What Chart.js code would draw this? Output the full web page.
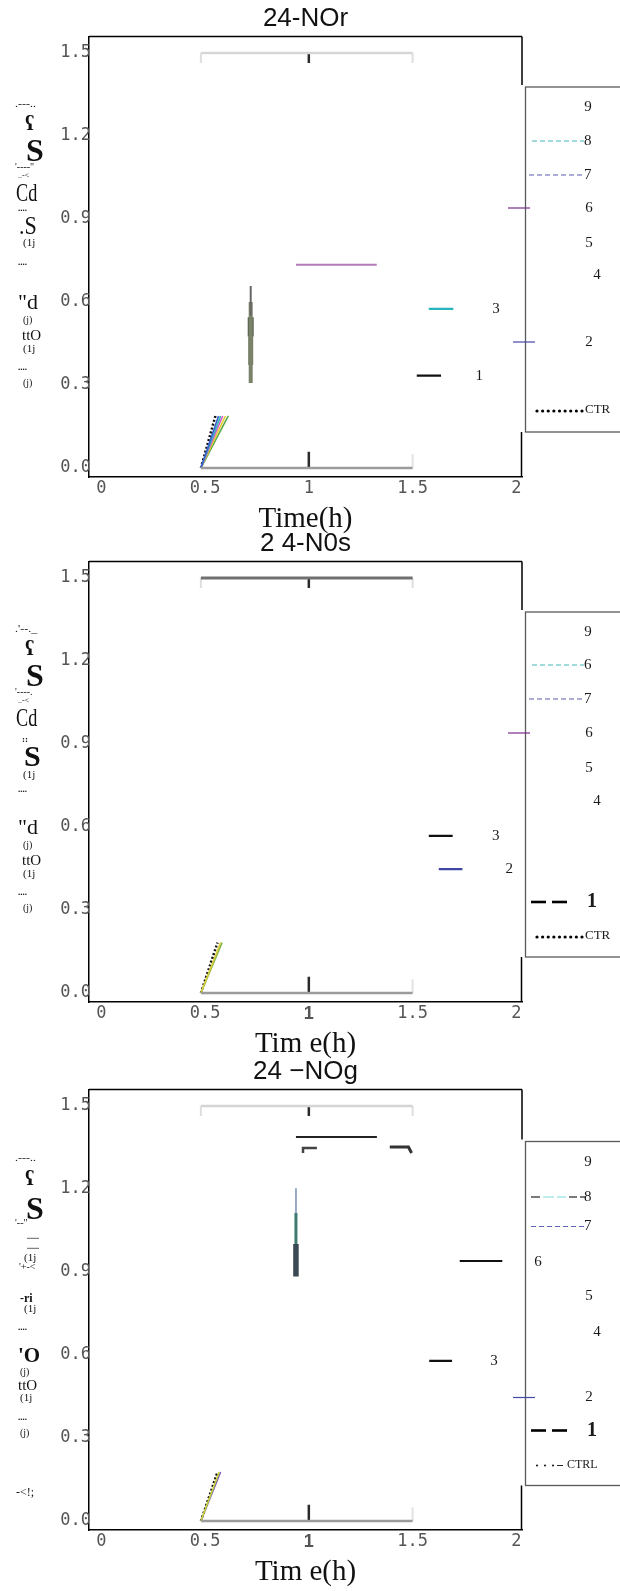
<!DOCTYPE html>
<html>
<head>
<meta charset="utf-8">
<script src="https://cdn.jsdelivr.net/npm/chart.js@4.4.1/dist/chart.umd.min.js"></script>
<style>
html,body{margin:0;padding:0;background:#fff;}
body{width:620px;height:1591px;position:relative;overflow:hidden;}
.panel{position:absolute;left:0;width:620px;height:538px;}
.panel canvas{position:absolute;left:0;top:0;}
.g{position:absolute;font-family:"Liberation Serif","DejaVu Serif",serif;color:#111;white-space:nowrap;line-height:1;transform-origin:left center;}
</style>
</head>
<body>
<div class="panel" id="p0" style="top:0px"><canvas id="c0" width="620" height="538"></canvas></div>
<div class="panel" id="p1" style="top:525px"><canvas id="c1" width="620" height="538"></canvas></div>
<div class="panel" id="p2" style="top:1053px"><canvas id="c2" width="620" height="538"></canvas></div>
<script>
// ---------------- data ----------------
const panelTitles = ["24-NOr", "2 4-N0s", "24 \u2212NOg"];
const axisTitles = ["Time(h)", "Tim e(h)", "Tim e(h)"];
const xTicks = [0, 0.5, 1, 1.5, 2];
const yTicks = [0, 0.3, 0.6, 0.9, 1.2, 1.5];

// bracket lines drawn in every panel
const bracketX = [0.48, 1.5];
const bracketMid = 1;
const upperLevel = [1.5, 1.464];
const lowerLevel = [0, 0.059];
const lowerCap = 0.05;

// rising ramp lines from (0.48, 0)
const rampBase = [0.48, 0];
const rRampTopX = [0.565, 0.575, 0.585, 0.598, 0.612, 0.55];
const rRampTopY = 0.188;
const sRampTopX = [0.575, 0.582, 0.56];
const sRampTopY = 0.182;
const gRampTopX = [0.568, 0.575, 0.56];
const gRampTopY = 0.177;

// NOr panel
const rBarX = 0.72;
const rBarSegments = [[0.658, 0.55], [0.6, 0.307], [0.545, 0.475], [0.475, 0.372]];
const rPurpleX = [0.938, 1.327];
const rPurpleY = 0.735;
const rCyanX = [1.578, 1.696];
const rCyanY = 0.575;
const rBlackX = [1.52, 1.637];
const rBlackY = 0.334;
const rTags = ["3", "1"];
const rTagX = [1.902, 1.821];
const rTagY = [0.575, 0.334];
const rLegendLabels = ["9", "8", "7", "6", "5", "4", "2", "CTR"];

// NOs panel
const sBlackX = [1.578, 1.693];
const sBlackY = 0.568;
const sBlueX = [1.626, 1.74];
const sBlueY = 0.448;
const sTags = ["3", "2"];
const sTagX = [1.90, 1.966];
const sTagY = [0.568, 0.448];
const sLegendLabels = ["9", "6", "7", "6", "5", "4", "1", "CTR"];

// NOg panel
const gLineX = [0.938, 1.328];
const gLineY = 1.388;
const gLeftBracket = [[0.972, 1.33], [0.972, 1.348], [1.039, 1.348]];
const gRightBracket = [[1.39, 1.352], [1.48, 1.352], [1.495, 1.33]];
const gBarX = 0.938;
const gBarLevels = [1.203, 1.113, 1.001, 0.884];
const gSixX = [1.727, 1.932];
const gSixY = 0.94;
const gBlackX = [1.58, 1.69];
const gBlackY = 0.579;
const gTags = ["3"];
const gTagX = [1.892];
const gTagY = [0.579];
const gLegendLabels = ["9", "8", "7", "6", "5", "4", "2", "1", "CTRL"];

// garbled axis-title fragments
const rGarble = [".---..", "\u0295", "S", "'----\"", "..-<", "Cd", "....", ".S", "(1j", "....", "\"d", "(j)", "ttO", "(1j", "....", "(j)"];
const sGarble = [".'--._", "\u0295", "S", "'----.", "..-<", "Cd", "::", "S", "(1j", "....", "\"d", "(j)", "ttO", "(1j", "....", "(j)"];
const gGarble = [".---..", "\u0295", "S", "'--\"", "......", "......", "(1j", "'+-<", "-ri", "(1j", "....", "'O", "(j)", "ttO", "(1j", "....", "(j)", "-<!;"];

// ---------------- helpers ----------------
function pts(arr) { return arr.map(p => ({x: p[0], y: p[1]})); }
function seg(points, color, width, dash) {
  return {data: pts(points), borderColor: color, backgroundColor: color, borderWidth: width,
    borderDash: dash || [], pointRadius: 0, pointHoverRadius: 0, showLine: true, fill: false,
    tension: 0, borderCapStyle: 'butt'};
}
function bracketSets(topColor, topWidth) {
  const x0 = bracketX[0], x1 = bracketX[1];
  return [
    seg([[x0, upperLevel[0]], [x1, upperLevel[0]]], topColor, topWidth),
    seg([[x0, upperLevel[0]], [x0, upperLevel[1]]], '#dedede', 2),
    seg([[x1, upperLevel[0]], [x1, upperLevel[1]]], '#dedede', 2),
    seg([[bracketMid, upperLevel[0]], [bracketMid, upperLevel[1]]], '#2a2a2a', 2.5),
    seg([[x0, lowerLevel[0]], [x1, lowerLevel[0]]], '#9c9c9c', 2.5),
    seg([[x1, lowerLevel[0]], [x1, lowerCap]], '#e2e2e2', 2),
    seg([[bracketMid, lowerLevel[0]], [bracketMid, lowerLevel[1]]], '#2a2a2a', 2.5)
  ];
}
function rampSets(topXs, topY, colors) {
  return topXs.map((tx, i) => {
    const dotted = colors[i] === '#111';
    return seg([rampBase, [tx, topY]], colors[i], dotted ? 2.5 : 1.6, dotted ? [2, 2] : []);
  });
}

function datasets0() {
  const d = bracketSets('#d6d6d6', 2.5);
  d.push(...rampSets(rRampTopX, rRampTopY, ['#3a5fcd', '#2fb7b7', '#d957c8', '#e3cf2f', '#5aa84a', '#111']));
  const barStyles = [['#666', 2], ['#7b826a', 4], ['#535d4c', 6], ['#737b62', 5]];
  rBarSegments.forEach((s, i) => d.push(seg([[rBarX, s[0]], [rBarX, s[1]]], barStyles[i][0], barStyles[i][1])));
  d.push(seg([[rPurpleX[0], rPurpleY], [rPurpleX[1], rPurpleY]], '#b27ab9', 2));
  d.push(seg([[rCyanX[0], rCyanY], [rCyanX[1], rCyanY]], '#27b5bd', 2.2));
  d.push(seg([[rBlackX[0], rBlackY], [rBlackX[1], rBlackY]], '#111', 2.2));
  return d;
}
function datasets1() {
  const d = bracketSets('#707070', 3);
  d.push(...rampSets(sRampTopX, sRampTopY, ['#d9cf3a', '#7ab34a', '#111']));
  d.push(seg([[sBlackX[0], sBlackY], [sBlackX[1], sBlackY]], '#111', 2.2));
  d.push(seg([[sBlueX[0], sBlueY], [sBlueX[1], sBlueY]], '#4046a6', 2.2));
  return d;
}
function datasets2() {
  const d = bracketSets('#d4d4d4', 2.5);
  d.push(...rampSets(gRampTopX, gRampTopY, ['#c9d43a', '#7b5fb0', '#111']));
  d.push(seg([[gLineX[0], gLineY], [gLineX[1], gLineY]], '#222', 1.8));
  d.push(seg(gLeftBracket, '#444', 2.5));
  d.push(seg(gRightBracket, '#333', 3));
  const barStyles = [['#9aa8c8', 2], ['#3d7a72', 3], ['#3a4954', 5.5]];
  for (let i = 0; i < 3; i++) d.push(seg([[gBarX, gBarLevels[i]], [gBarX, gBarLevels[i + 1]]], barStyles[i][0], barStyles[i][1]));
  d.push(seg([[gSixX[0], gSixY], [gSixX[1], gSixY]], '#111', 2));
  d.push(seg([[gBlackX[0], gBlackY], [gBlackX[1], gBlackY]], '#111', 2.2));
  return d;
}

// ---------------- layout of legends ----------------
const SERIF = '"Liberation Serif", "DejaVu Serif", serif';
const legendLayouts = [
  {top: 87, h: 345, items: [
    {dy: 20, tx: 588},
    {dy: 54, tx: 584, align: 'left', line: {x1: 532, x2: 584, color: '#45b5b5', dash: [5, 3]}},
    {dy: 88, tx: 584, align: 'left', line: {x1: 529, x2: 584, color: '#5a5fb0', dash: [5, 3]}},
    {dy: 121, tx: 589, line: {x1: 508, x2: 530, color: '#7a2a8a'}},
    {dy: 156, tx: 589},
    {dy: 188, tx: 597},
    {dy: 255, tx: 589, line: {x1: 513, x2: 535, color: '#4349a8'}},
    {dy: 323, tx: 585, align: 'left', size: 13, dots: {x1: 537, x2: 582, n: 9}}
  ]},
  {top: 87, h: 345, items: [
    {dy: 20, tx: 588},
    {dy: 53, tx: 584, align: 'left', line: {x1: 532, x2: 584, color: '#45b5b5', dash: [5, 3]}},
    {dy: 87, tx: 584, align: 'left', line: {x1: 529, x2: 584, color: '#5a5fb0', dash: [5, 3]}},
    {dy: 121, tx: 589, line: {x1: 508, x2: 530, color: '#7a2a8a'}},
    {dy: 156, tx: 589},
    {dy: 189, tx: 597},
    {dy: 290, tx: 592, size: 20, bold: true, dashes: [[531, 546], [552, 567]]},
    {dy: 324, tx: 585, align: 'left', size: 13, dots: {x1: 537, x2: 582, n: 9}}
  ]},
  {top: 88.5, h: 344, items: [
    {dy: 20.5, tx: 588},
    {dy: 55.5, tx: 584, align: 'left', multi: [[531, 540, '#222'], [543, 554, '#8fe0e0'], [557, 566, '#8fe0e0'], [569, 577, '#222'], [580, 586, '#222']]},
    {dy: 85, tx: 584, align: 'left', line: {x1: 531, x2: 584, color: '#5a5fb0', dash: [5, 3]}},
    {dy: 121, tx: 538},
    {dy: 155, tx: 589},
    {dy: 191, tx: 597},
    {dy: 256, tx: 589, line: {x1: 513, x2: 535, color: '#4349a8'}},
    {dy: 289, tx: 592, size: 20, bold: true, dashes: [[531, 546], [552, 567]]},
    {dy: 323, tx: 567, align: 'left', size: 12, sparse: [537, 545, 553], dash: [557, 563]}
  ]}
];
const legendLabelSets = [rLegendLabels, sLegendLabels, gLegendLabels];
const tagSets = [[rTags, rTagX, rTagY], [sTags, sTagX, sTagY], [gTags, gTagX, gTagY]];

function decorPlugin(idx) {
  return {
    id: 'decor' + idx,
    afterDraw(chart) {
      const ctx = chart.ctx, a = chart.chartArea;
      const L = legendLayouts[idx];
      ctx.save();
      // frame: top and right borders
      ctx.strokeStyle = '#000'; ctx.lineWidth = 1.5;
      ctx.beginPath();
      ctx.moveTo(a.left, a.top); ctx.lineTo(a.right, a.top);
      ctx.moveTo(a.right, a.top); ctx.lineTo(a.right, L.top - 2);
      ctx.moveTo(a.right - 0.5, L.top + L.h); ctx.lineTo(a.right - 0.5, a.bottom);
      ctx.stroke();
      // legend box
      ctx.strokeStyle = '#5a5a5a'; ctx.lineWidth = 1.3;
      ctx.strokeRect(525.5, L.top, 150, L.h);
      const labels = legendLabelSets[idx];
      L.items.forEach((it, i) => {
        const y = L.top + it.dy;
        if (it.line) {
          ctx.strokeStyle = it.line.color; ctx.lineWidth = 1.2;
          ctx.setLineDash(it.line.dash || []);
          ctx.beginPath(); ctx.moveTo(it.line.x1, y); ctx.lineTo(it.line.x2, y); ctx.stroke();
          ctx.setLineDash([]);
        }
        if (it.multi) {
          ctx.lineWidth = 1.2;
          it.multi.forEach(m => { ctx.strokeStyle = m[2]; ctx.beginPath(); ctx.moveTo(m[0], y); ctx.lineTo(m[1], y); ctx.stroke(); });
        }
        if (it.dashes) {
          ctx.strokeStyle = '#000'; ctx.lineWidth = 2.6;
          it.dashes.forEach(m => { ctx.beginPath(); ctx.moveTo(m[0], y); ctx.lineTo(m[1], y); ctx.stroke(); });
        }
        if (it.dots) {
          ctx.fillStyle = '#000';
          const step = (it.dots.x2 - it.dots.x1) / (it.dots.n - 1);
          for (let k = 0; k < it.dots.n; k++) { ctx.beginPath(); ctx.arc(it.dots.x1 + k * step, y + 1, 1.6, 0, Math.PI * 2); ctx.fill(); }
        }
        if (it.sparse) {
          ctx.fillStyle = '#222';
          it.sparse.forEach(sx => { ctx.beginPath(); ctx.arc(sx, y + 1, 1.1, 0, Math.PI * 2); ctx.fill(); });
          ctx.strokeStyle = '#222'; ctx.lineWidth = 1;
          ctx.beginPath(); ctx.moveTo(it.dash[0], y + 1); ctx.lineTo(it.dash[1], y + 1); ctx.stroke();
        }
        ctx.fillStyle = '#1a1a1a';
        ctx.font = (it.bold ? 'bold ' : '') + (it.size || 15) + 'px ' + SERIF;
        ctx.textAlign = it.align || 'center';
        ctx.textBaseline = 'middle';
        ctx.fillText(labels[i], it.tx, y);
      });
      // in-plot tags placed by the scales
      const T = tagSets[idx];
      ctx.font = '15px ' + SERIF; ctx.textAlign = 'center'; ctx.textBaseline = 'middle'; ctx.fillStyle = '#1a1a1a';
      T[0].forEach((t, i) => {
        ctx.fillText(t, chart.scales.x.getPixelForValue(T[1][i]), chart.scales.y.getPixelForValue(T[2][i]));
      });
      ctx.restore();
    }
  };
}

function makeOptions(idx, boldOne) {
  const mono = {family: '"DejaVu Sans Mono", monospace', size: 17, weight: 'normal'};
  return {
    responsive: false, animation: false, devicePixelRatio: 1,
    layout: {padding: {left: 0, right: 98, top: 0, bottom: 0}},
    plugins: {
      legend: {display: false}, tooltip: {enabled: false},
      title: {display: true, fullSize: false, text: panelTitles[idx], color: '#111',
        font: {family: '"Liberation Sans", Arial, sans-serif', size: 26, weight: 'normal', lineHeight: 1.2},
        padding: {top: 3, bottom: 2.2}}
    },
    scales: {
      x: {
        type: 'linear', min: -0.059, max: 2.027,
        afterBuildTicks: s => { s.ticks = xTicks.map(v => ({value: v})); },
        afterFit: s => { s.height = 61; },
        grid: {display: false, drawTicks: false},
        border: {display: true, color: '#000', width: 1.5},
        ticks: {padding: 1, color: '#555', maxRotation: 0, autoSkip: false,
          font: c => (boldOne && c.tick && c.tick.value === 1) ? {family: '"Liberation Sans", Arial, sans-serif', size: 18, weight: 'bold'} : mono,
          callback: v => String(v)},
        title: {display: true, text: axisTitles[idx], color: '#111',
          font: {family: SERIF, size: 29, weight: 'normal', lineHeight: 1.2}, padding: {top: 0, bottom: 1.6}}
      },
      y: {
        type: 'linear', min: -0.0325, max: 1.56,
        afterBuildTicks: s => { s.ticks = yTicks.map(v => ({value: v})); },
        afterFit: s => { s.width = 89; },
        grid: {display: false, drawTicks: false},
        border: {display: true, color: '#000', width: 1.5},
        ticks: {padding: -2, color: '#555', font: mono, callback: v => Number(v).toFixed(1)}
      }
    }
  };
}

const builders = [datasets0, datasets1, datasets2];
[0, 1, 2].forEach(i => {
  new Chart(document.getElementById('c' + i), {
    type: 'scatter',
    data: {datasets: builders[i]()},
    options: makeOptions(i, i > 0),
    plugins: [decorPlugin(i)]
  });
});

// garbled y-axis title fragments (HTML text)
// [left, centerY, size, weight, scaleX]
const garbleLayouts = [
  [[15,104,10,'normal',1.2],[25,123,20,'bold',1],[26,150,32,'bold',1],[15,167,10,'normal',1],[18,176,8,'normal',1],
   [16,193,26,'normal',0.7],[18,208,9,'bold',1],[19,226,26,'normal',0.85],[23,242,11,'normal',1],[18,262,9,'bold',1],
   [18,302,22,'normal',1],[23,320,10,'normal',1],[22,335,15,'normal',1],[23,348,11,'normal',1],[18,367,9,'bold',1],[23,383,10,'normal',1]],
  [[15,104,10,'normal',1.2],[25,123,20,'bold',1],[26,150,32,'bold',1],[15,167,10,'normal',1],[18,176,8,'normal',1],
   [16,193,26,'normal',0.7],[22,214,9,'bold',1],[24,231,30,'bold',1],[23,249,11,'normal',1],[18,264,9,'bold',1],
   [18,302,22,'normal',1],[23,320,10,'normal',1],[22,335,15,'normal',1],[23,348,11,'normal',1],[18,367,9,'bold',1],[23,383,10,'normal',1]],
  [[15,105,10,'normal',1.2],[25,125,20,'bold',1],[26,155,32,'bold',1],[15,170,10,'normal',1],[27,184,8,'bold',1],[27,194,8,'bold',1],
   [24,204,11,'normal',1],[19,214,10,'normal',1],[20,245,12,'bold',1],[24,255,11,'normal',1],[18,274,9,'bold',1],
   [18,302,21,'bold',1],[20,319,10,'normal',1],[18,332,15,'normal',1],[20,344,11,'normal',1],[18,364,9,'bold',1],[20,380,10,'normal',1],[16,439,12,'normal',1]]
];
const garbleTexts = [rGarble, sGarble, gGarble];
[0, 1, 2].forEach(i => {
  const panel = document.getElementById('p' + i);
  garbleTexts[i].forEach((t, k) => {
    const L = garbleLayouts[i][k];
    const s = document.createElement('span');
    s.className = 'g';
    s.textContent = t;
    s.style.left = L[0] + 'px';
    s.style.top = (L[1] - L[2] / 2) + 'px';
    s.style.fontSize = L[2] + 'px';
    s.style.fontWeight = L[3];
    s.style.transform = 'scaleX(' + L[4] + ')';
    panel.appendChild(s);
  });
});
</script>
</body>
</html>
